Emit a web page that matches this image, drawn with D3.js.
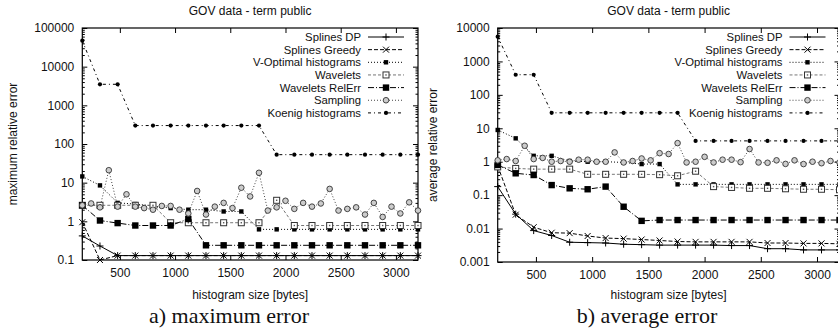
<!DOCTYPE html>
<html>
<head>
<meta charset="utf-8">
<script src="https://cdn.jsdelivr.net/npm/d3@7"></script>
<style>
  body { margin: 0; background: #fff; }
  svg text { font-family: "Liberation Sans", Arial, Helvetica, sans-serif; fill: #111; }
  svg text.caption { font-family: "Liberation Serif", "DejaVu Serif", serif; }
</style>
</head>
<body>
<svg id="chart" width="838" height="330"></svg>
<script>
// --- data ---
const seriesNames = ["Splines DP", "Splines Greedy", "V-Optimal histograms", "Wavelets",
                     "Wavelets RelErr", "Sampling", "Koenig histograms"];

const sizes = [160, 320, 480, 640, 800, 960, 1120, 1280, 1440, 1600,
               1760, 1920, 2080, 2240, 2400, 2560, 2720, 2880, 3040, 3200];
const samplingSizes = [160, 240, 320, 400, 480, 560, 640, 720, 800, 880,
                       960, 1040, 1120, 1200, 1280, 1360, 1440, 1520, 1600, 1680,
                       1760, 1840, 1920, 2000, 2080, 2160, 2240, 2320, 2400, 2480,
                       2560, 2640, 2720, 2800, 2880, 2960, 3040, 3120, 3200];

const xTicks = [500, 1000, 1500, 2000, 2500, 3000];
const maxTicks = [0.1, 1, 10, 100, 1000, 10000, 100000];
const avgTicks = [0.001, 0.01, 0.1, 1, 10, 100, 1000, 10000];

// a) maximum relative error
const maxSplinesDP = [0.42, 0.23, 0.13, 0.13, 0.13, 0.13, 0.13, 0.13, 0.13, 0.13,
                      0.13, 0.13, 0.13, 0.13, 0.13, 0.13, 0.13, 0.13, 0.13, 0.13];
const maxSplinesGreedy = [0.95, 0.1, 0.13, 0.13, 0.13, 0.13, 0.13, 0.13, 0.13, 0.13,
                          0.13, 0.13, 0.13, 0.13, 0.13, 0.13, 0.13, 0.13, 0.13, 0.13];
const maxVOptimal = [14.5, 8.5, 3.0, 2.8, 2.5, 2.2, 2.0, 2.0, 1.8, 1.8,
                     0.62, 0.62, 0.62, 0.62, 0.62, 0.62, 0.62, 0.62, 0.62, 0.62];
const maxWavelets = [2.6, 2.6, 2.6, 2.6, 2.6, 0.92, 0.92, 0.92, 0.92, 0.92,
                     0.92, 3.5, 0.78, 0.78, 0.78, 0.78, 0.78, 0.78, 0.78, 0.78];
const maxWaveletsRelErr = [2.6, 1.05, 0.9, 0.78, 0.78, 0.78, 1.15, 0.24, 0.24, 0.24,
                           0.24, 0.24, 0.24, 0.24, 0.24, 0.24, 0.24, 0.24, 0.24, 0.24];
const maxSampling = [2.6, 2.9, 2.3, 21, 2.4, 5.0, 2.4, 2.2, 2.0, 2.5,
                     2.5, 2.0, 1.6, 6.1, 1.5, 2.4, 3.0, 2.2, 7.4, 4.4,
                     18, 1.9, 2.3, 3.4, 2.1, 3.0, 2.4, 2.9, 6.9, 1.9,
                     2.1, 2.3, 1.5, 3.0, 1.3, 2.4, 1.6, 3.1, 1.9];
const maxKoenig = [47000, 3500, 3500, 300, 300, 300, 300, 300, 300, 300,
                   300, 53, 53, 53, 53, 53, 53, 53, 53, 53];

// b) average relative error
const avgSplinesDP = [0.18, 0.027, 0.0087, 0.0062, 0.0039, 0.0038, 0.0037, 0.0034, 0.0033, 0.0032,
                      0.0032, 0.0032, 0.0032, 0.0031, 0.0031, 0.0025, 0.0025, 0.0023, 0.0023, 0.0023];
const avgSplinesGreedy = [0.75, 0.026, 0.011, 0.0075, 0.0073, 0.006, 0.0052, 0.005, 0.0047, 0.0044,
                          0.0041, 0.004, 0.004, 0.004, 0.004, 0.0037, 0.0037, 0.0036, 0.0036, 0.0035];
const avgVOptimal = [8.9, 5.0, 1.5, 1.5, 1.05, 1.0, 1.0, 0.95, 0.85, 0.85,
                     0.21, 0.21, 0.21, 0.21, 0.21, 0.21, 0.21, 0.21, 0.21, 0.21];
const avgWavelets = [0.7, 0.63, 0.6, 0.6, 0.6, 0.42, 0.42, 0.42, 0.42, 0.41,
                     0.38, 0.52, 0.18, 0.17, 0.16, 0.16, 0.155, 0.15, 0.15, 0.145];
const avgWaveletsRelErr = [0.8, 0.45, 0.4, 0.2, 0.16, 0.15, 0.18, 0.045, 0.017, 0.018,
                           0.018, 0.018, 0.018, 0.018, 0.018, 0.018, 0.018, 0.018, 0.018, 0.018];
const avgSampling = [1.1, 1.2, 1.05, 3.0, 1.2, 1.3, 1.0, 1.05, 1.0, 1.15,
                     1.15, 1.0, 1.0, 1.9, 0.95, 1.05, 1.25, 1.1, 1.8, 1.7,
                     3.6, 0.95, 1.0, 1.4, 0.95, 1.15, 1.15, 0.97, 2.4, 0.95,
                     0.93, 1.1, 0.86, 1.1, 0.85, 1.0, 0.9, 1.05, 0.95];
const avgKoenig = [5500, 400, 400, 29, 29, 29, 29, 29, 29, 29,
                   29, 4.2, 4.2, 4.2, 4.2, 4.2, 4.2, 4.2, 4.2, 4.2];

// gnuplot-ish monochrome line types
const styles = [
  { marker: "plus",    dash: null,      color: "#000" },
  { marker: "cross",   dash: "4,2",     color: "#000" },
  { marker: "sqSmall", dash: "1,2",     color: "#000" },
  { marker: "sqOpen",  dash: "3,2",     color: "#777" },
  { marker: "sqFill",  dash: "6,2,1,2", color: "#000" },
  { marker: "circ",    dash: "1,2",     color: "#444" },
  { marker: "dot",     dash: "3,3,1,3", color: "#000" }
];

const svg = d3.select("#chart");

function drawMarker(g, type, cx, cy) {
  if (type === "plus") {
    g.append("path").attr("d", `M${cx - 3.5},${cy}H${cx + 3.5}M${cx},${cy - 3.5}V${cy + 3.5}`)
      .attr("stroke", "#000").attr("stroke-width", 1);
  } else if (type === "cross") {
    g.append("path").attr("d", `M${cx - 3},${cy - 3}L${cx + 3},${cy + 3}M${cx - 3},${cy + 3}L${cx + 3},${cy - 3}`)
      .attr("stroke", "#000").attr("stroke-width", 1);
  } else if (type === "sqSmall") {
    g.append("rect").attr("x", cx - 2.2).attr("y", cy - 2.2).attr("width", 4.4).attr("height", 4.4).attr("fill", "#000");
  } else if (type === "sqOpen") {
    g.append("rect").attr("x", cx - 3).attr("y", cy - 3).attr("width", 6).attr("height", 6)
      .attr("fill", "#fff").attr("stroke", "#333").attr("stroke-width", 1);
    g.append("rect").attr("x", cx - 0.7).attr("y", cy - 0.7).attr("width", 1.4).attr("height", 1.4).attr("fill", "#555");
  } else if (type === "sqFill") {
    g.append("rect").attr("x", cx - 3.2).attr("y", cy - 3.2).attr("width", 6.4).attr("height", 6.4).attr("fill", "#000");
  } else if (type === "circ") {
    g.append("circle").attr("cx", cx).attr("cy", cy).attr("r", 2.8)
      .attr("fill", "#ccc").attr("stroke", "#333").attr("stroke-width", 0.9);
  } else if (type === "dot") {
    g.append("circle").attr("cx", cx).attr("cy", cy).attr("r", 2.1).attr("fill", "#000");
  }
}

function drawPanel(p) {
  const x = d3.scaleLinear().domain([160, 3200]).range([p.left, p.right]);
  const y = d3.scaleLog().domain(p.yDomain).range([p.bottom, p.top]);
  const g = svg.append("g");

  // minor log ticks (2..9 of each decade)
  const minor = [];
  p.yTicks.slice(0, -1).forEach(d => { for (let k = 2; k < 10; k++) minor.push(d * k); });

  const ax = (axis, tx, ty) => g.append("g").attr("transform", `translate(${tx},${ty})`)
    .call(axis).call(s => s.select(".domain").remove())
    .call(s => s.selectAll("line").attr("stroke", "#000"))
    .call(s => s.selectAll("text").attr("font-size", 12).attr("fill", "#111"));

  ax(d3.axisBottom(x).tickValues(xTicks).tickSize(-5).tickPadding(8).tickFormat(d3.format("d")), 0, p.bottom);
  ax(d3.axisTop(x).tickValues(xTicks).tickSize(-5).tickFormat(""), 0, p.top);
  ax(d3.axisLeft(y).tickValues(p.yTicks).tickSize(-5).tickPadding(8).tickFormat(d => String(d)), p.left, 0);
  ax(d3.axisRight(y).tickValues(p.yTicks).tickSize(-5).tickFormat(""), p.right, 0);
  ax(d3.axisLeft(y).tickValues(minor).tickSize(-2.5).tickFormat(""), p.left, 0);
  ax(d3.axisRight(y).tickValues(minor).tickSize(-2.5).tickFormat(""), p.right, 0);

  g.append("rect").attr("x", p.left).attr("y", p.top)
    .attr("width", p.right - p.left).attr("height", p.bottom - p.top)
    .attr("fill", "none").attr("stroke", "#000").attr("stroke-width", 1.2);

  // series
  p.series.forEach((vals, i) => {
    const xs = vals.length === samplingSizes.length ? samplingSizes : sizes;
    const pts = vals.map((v, j) => [xs[j], v]);
    const st = styles[i];
    g.append("path").datum(pts)
      .attr("d", d3.line().x(d => x(d[0])).y(d => y(d[1])))
      .attr("fill", "none").attr("stroke", st.color).attr("stroke-width", 1)
      .attr("stroke-dasharray", st.dash);
    const mg = g.append("g");
    pts.forEach(d => drawMarker(mg, st.marker, x(d[0]), y(d[1])));
  });

  // key
  seriesNames.forEach((name, i) => {
    const ry = 37 + i * 12.65;
    const st = styles[i];
    g.append("text").attr("x", p.right - 57).attr("y", ry).attr("dy", "0.35em")
      .attr("text-anchor", "end").attr("font-size", 11.3).text(name);
    g.append("line").attr("x1", p.right - 50).attr("x2", p.right - 14).attr("y1", ry).attr("y2", ry)
      .attr("stroke", st.color).attr("stroke-width", 1).attr("stroke-dasharray", st.dash);
    drawMarker(g, st.marker, p.right - 32, ry);
  });

  const cx = (p.left + p.right) / 2;
  g.append("text").attr("x", cx).attr("y", 15).attr("text-anchor", "middle")
    .attr("font-size", 12).text("GOV data - term public");
  g.append("text").attr("x", cx).attr("y", 299).attr("text-anchor", "middle")
    .attr("font-size", 12).text("histogram size [bytes]");
  g.append("text").attr("transform", `translate(${p.yLabelX},${(p.top + p.bottom) / 2}) rotate(-90)`)
    .attr("text-anchor", "middle").attr("dy", "0.35em").attr("font-size", 12).text(p.yLabel);
  g.append("text").attr("class", "caption").attr("x", p.captionX).attr("y", 323)
    .attr("text-anchor", "middle").attr("font-size", 22).text(p.caption);
}

drawPanel({
  left: 82.3, right: 418, top: 28, bottom: 260,
  yDomain: [0.1, 100000], yTicks: maxTicks,
  yLabel: "maximum relative error", yLabelX: 13,
  caption: "a) maximum error", captionX: 229,
  series: [maxSplinesDP, maxSplinesGreedy, maxVOptimal, maxWavelets, maxWaveletsRelErr, maxSampling, maxKoenig]
});

drawPanel({
  left: 497.7, right: 839.5, top: 28, bottom: 262,
  yDomain: [0.001, 10000], yTicks: avgTicks,
  yLabel: "average relative error", yLabelX: 433,
  caption: "b) average error", captionX: 647,
  series: [avgSplinesDP, avgSplinesGreedy, avgVOptimal, avgWavelets, avgWaveletsRelErr, avgSampling, avgKoenig]
});
</script>
</body>
</html>
